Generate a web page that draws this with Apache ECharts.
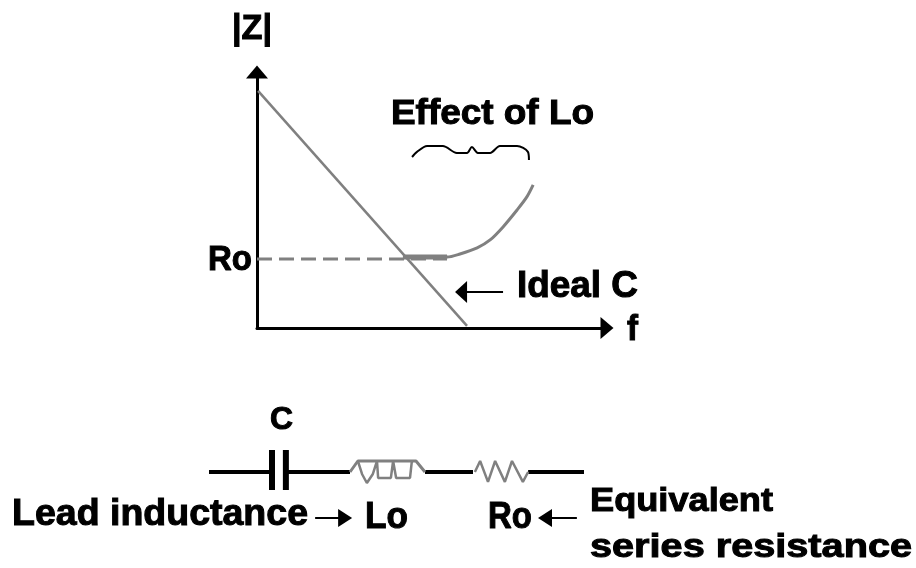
<!DOCTYPE html>
<html>
<head>
<meta charset="utf-8">
<style>
	html, body { margin: 0; padding: 0; background: #fff; }
	#chart1 { width: 916px; height: 568px; }
</style>
<script src="https://cdn.jsdelivr.net/npm/echarts@6/dist/echarts.min.js"></script>
</head>
<body>
<div id="chart1"></div>
<script>
// impedance plot, axis units 0-100
var idealC = [[0.3, 92.6], [60, 0.8]];
var roLine = [[0, 27], [54.3, 27]];
var lowPart = [[41.7, 27.7], [48.6, 27.7], [54.3, 27.7]];
var effectCurve = [[41.7, 27.7], [48.6, 27.7], [54.3, 27.7], [58, 28.9], [62.9, 31.3], [66.6, 34.4], [70.3, 39.5], [74.3, 46.1], [77.1, 51.2], [78.9, 55.9]];
var brace = [[44.3, 66.8], [45.7, 68.8], [48.6, 71.1], [53.1, 71.1], [57.1, 68.4], [60, 68.4], [61.4, 70.7], [63.1, 68.4], [66.6, 68.4], [69.4, 71.1], [74.3, 71.1], [77.4, 68.8], [77.7, 65.6]];
var idealArrow = [[70.3, 14.1], [58.3, 14.1]];

// circuit, its own hidden axes
var wires = [[0, 0], [16.8, 0], null, [20.5, 0], [37.6, 0], null, [57.6, 0], [70.4, 0], null, [85.1, 0], [100, 0]];
var plates = [[16.8, 10], [16.8, -8.2], null, [20.5, 10], [20.5, -8.2]];
var coilTop = [[37.6, 0], [39.7, 5], [55.2, 5], [57.6, 0]];
var coilLoops = [[39.7, 5], [40.8, -0.9], [42.1, -5], [43.7, -0.9], [44.8, 5], [45.1, -2.7], [48.5, -2.7], [49.1, 5], [49.9, -2.7], [53.6, -2.7], [54.1, 5]];
var resistor = [[70.9, 0], [72.3, 5], [74.4, -4.5], [76.3, 5], [78.9, -4.5], [80.8, 5], [83.7, -4.5], [85.1, 0]];
var leadArrow = [[28.3, -20.9], [36.3, -20.9]];
var roArrow = [[98.1, -20.9], [89.6, -20.9]];

var measure = document.createElement('canvas').getContext('2d');

// bold label stretched to sit between left and right, like the bitmap lettering
function label(str, left, right, midY, capH) {
	var size = capH / 0.72;
	var font = 'bold ' + size + 'px "Liberation Sans"';
	measure.font = font;
	return {
		type: 'text',
		x: left,
		y: midY + 2,
		scaleX: (right - left) / measure.measureText(str).width,
		style: { text: str, font: font, fill: '#000', stroke: '#000', lineWidth: 1, textAlign: 'left', textVerticalAlign: 'middle' }
	};
}

function line(xIdx, data, color, width, type) {
	return {
		type: 'line',
		xAxisIndex: xIdx,
		yAxisIndex: xIdx,
		data: data,
		symbol: 'none',
		silent: true,
		clip: false,
		lineStyle: { color: color, width: width, type: type || 'solid', cap: 'butt' }
	};
}

// line with a filled head on its last point
function arrow(xIdx, data, rotate, size, width) {
	var s = line(xIdx, data, '#000', width);
	s.symbol = function (v, p) { return p.dataIndex === 1 ? 'triangle' : 'none'; };
	s.symbolSize = size;
	s.symbolRotate = rotate;
	s.showSymbol = true;
	s.itemStyle = { color: '#000' };
	return s;
}

function smoothed(s, amount) {
	s.smooth = amount;
	return s;
}

function hiddenAxis(gridIdx, min, max) {
	return { type: 'value', gridIndex: gridIdx, min: min, max: max, show: false };
}

function plotAxis(head) {
	return {
		type: 'value',
		gridIndex: 0,
		min: 0,
		max: 100,
		axisLine: { show: true, onZero: false, lineStyle: { color: '#000', width: 3 }, symbol: ['none', 'triangle'], symbolSize: head },
		axisTick: { show: false },
		axisLabel: { show: false },
		splitLine: { show: false }
	};
}

var chart1 = echarts.init(document.getElementById('chart1'));
chart1.setOption({
	animation: false,
	backgroundColor: '#fff',
	grid: [
		{ left: 257, top: 72, width: 350, height: 256 },
		{ left: 209, top: 450, width: 375, height: 79.2 }
	],
	xAxis: [plotAxis([22, 13]), hiddenAxis(1, 0, 100)],
	yAxis: [plotAxis([22, 13]), hiddenAxis(1, -26, 10)],
	series: [
		line(0, idealC, '#808080', 2.5),
		line(0, roLine, '#808080', 3, [15, 7]),
		smoothed(line(0, effectCurve, '#808080', 3), 0.3),
		line(0, lowPart, '#808080', 5),
		smoothed(line(0, brace, '#000', 2), 0.3),
		arrow(0, idealArrow, 90, [22, 12], 2),
		line(1, wires, '#000', 4),
		line(1, plates, '#000', 6),
		line(1, coilTop, '#808080', 3),
		line(1, coilLoops, '#808080', 2.5),
		line(1, resistor, '#808080', 2.5),
		arrow(1, leadArrow, -90, [18, 14], 2),
		arrow(1, roArrow, 90, [18, 14], 2)
	],
	graphic: [
		label('|Z|', 232, 272, 27, 25),
		label('Ro', 208, 252, 258, 25),
		label('Effect of Lo', 391, 594, 112, 25),
		label('Ideal C', 517, 638, 285, 26),
		label('f', 627, 638, 328, 25),
		label('C', 270, 293, 418, 23),
		label('Lead inductance', 12, 308, 513.5, 26),
		label('Lo', 365, 408, 516.5, 26),
		label('Ro', 488, 532, 516.5, 26),
		label('Equivalent', 590, 773, 500, 24),
		label('series resistance', 590, 912, 545.5, 24)
	]
});
</script>
</body>
</html>
